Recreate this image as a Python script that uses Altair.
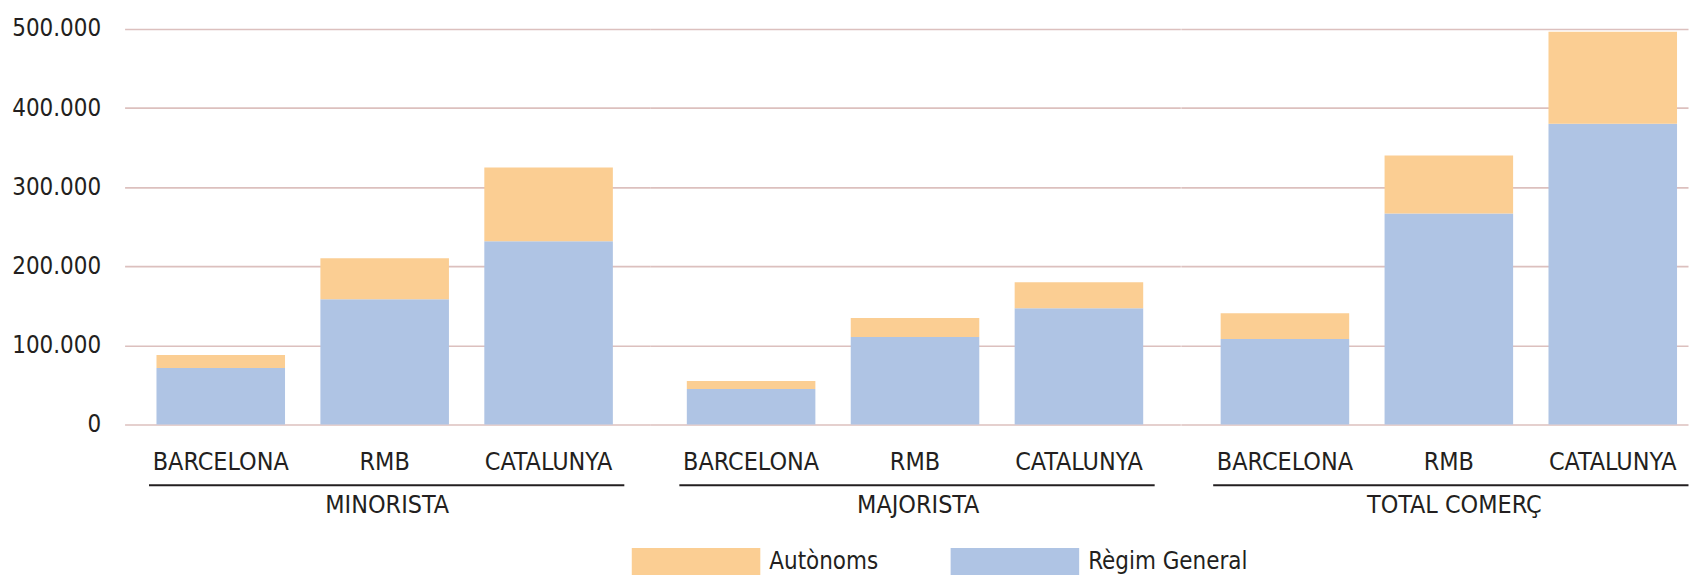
import altair as alt
import pandas as pd

# ---- data ----
grups = ["MINORISTA", "MAJORISTA", "TOTAL COMERÇ"]
territoris = ["BARCELONA", "RMB", "CATALUNYA"]
tipus = ["Autònoms", "Règim General"]
regim_general = [71500, 158400, 231600, 45000, 110500, 147100, 108000, 266600, 380300]
autonoms = [16300, 51700, 93200, 10100, 24000, 32800, 32800, 73400, 116000]

rows = []
for gi, g in enumerate(grups):
    for ti, t in enumerate(territoris):
        k = gi * 3 + ti
        rows.append({"grup": g, "territori": t, "tipus": "Règim General", "valor": regim_general[k], "ordre": 0})
        rows.append({"grup": g, "territori": t, "tipus": "Autònoms", "valor": autonoms[k], "ordre": 1})
df = pd.DataFrame(rows)

FONT = "DejaVu Sans Condensed, Liberation Sans Narrow, Liberation Sans, sans-serif"
TXT = "#231f20"
GRID = "#dcc0be"

color_scale = alt.Scale(domain=tipus, range=["#FBCE93", "#AFC4E4"])

H = 397
# (width, paddingOuter, align, titleX)
layout = [
    (527, 0.2097, 0.464, 263),
    (532.5, 0.2264, 0.5, 269),
    (509, 0.155, 0.784, 274),
]
PI = 0.2158


def panel(i):
    g = grups[i]
    w, po, al, tx = layout[i]
    if i == 0:
        yaxis = alt.Axis(
            title=None, values=[0, 100000, 200000, 300000, 400000, 500000],
            labelExpr="replace(format(datum.value, ','), regexp(',', 'g'), '.')",
            ticks=False, domain=False, labelPadding=24, labelFontSize=24,
            grid=True, gridColor=GRID, gridWidth=1.6,
        )
    else:
        yaxis = alt.Axis(
            title=None, values=[0, 100000, 200000, 300000, 400000, 500000],
            labels=False, ticks=False, domain=False,
            grid=True, gridColor=GRID, gridWidth=1.6,
        )
    xscale = alt.Scale(domain=territoris, paddingInner=PI, paddingOuter=po, align=al)
    bars = (
        alt.Chart(df)
        .transform_filter(alt.datum.grup == g)
        .mark_bar()
        .encode(
            x=alt.X(
                "territori:N", sort=territoris, scale=xscale,
                axis=alt.Axis(
                    title=g, labelAngle=0, ticks=False, domain=False,
                    labelPadding=25, labelFontSize=25, titleFontSize=25,
                    titleFontWeight="normal", titlePadding=18, titleX=tx,
                ),
            ),
            y=alt.Y("valor:Q", stack="zero", scale=alt.Scale(domain=[0, 500000], nice=False), axis=yaxis),
            color=alt.Color(
                "tipus:N", scale=color_scale,
                legend=alt.Legend(
                    title=None, orient="none", legendX=509, legendY=470,
                    direction="horizontal", symbolType="M-1,-0.2093H1V0.2093H-1Z",
                    symbolSize=16641, symbolStrokeWidth=0, symbolOpacity=1,
                    labelFontSize=24, labelOffset=9, columnPadding=72, padding=0,
                ),
            ),
            order=alt.Order("ordre:Q"),
        )
    )
    rule = (
        alt.Chart(pd.DataFrame({"grup": [g]}))
        .mark_rule(color=TXT, strokeWidth=2, xOffset=-72, x2Offset=76)
        .encode(x=alt.datum("BARCELONA"), x2=alt.datum("CATALUNYA"), y=alt.value(H + 61))
    )
    return alt.layer(bars, rule).properties(width=w, height=H)


chart = (
    alt.hconcat(*[panel(i) for i in range(3)], spacing=0)
    .resolve_scale(y="shared", color="shared")
    .properties(padding={"left": 3, "top": 8, "right": 0, "bottom": 0})
    .configure_view(stroke=None)
    .configure_axis(labelFont=FONT, titleFont=FONT, labelColor=TXT, titleColor=TXT)
    .configure_legend(labelFont=FONT, labelColor=TXT)
)

chart.save("out.html", embed_options={"renderer": "svg", "actions": False})
